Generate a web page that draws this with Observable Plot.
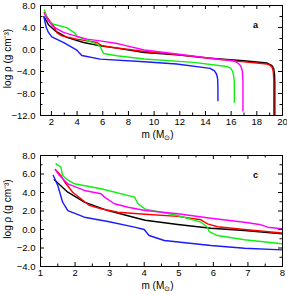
<!DOCTYPE html>
<html><head><meta charset="utf-8">
<script src="https://cdn.jsdelivr.net/npm/d3@7"></script>
<script src="https://cdn.jsdelivr.net/npm/@observablehq/plot@0.6"></script>
<style>body{margin:0;background:#fff} #chart svg{display:block}</style>
</head><body><div id="chart"></div>
<script>
// ---------- labels ----------
const yLabel = "log ρ (g cm⁻³)";
const xLabel = "m (M⊙)";
const seriesColors = ["#000000", "#ff0000", "#11ee11", "#ff00ff", "#1a1aff"];

// ---------- panel a ----------
const aTag = "a";
const aXTicks = [2, 4, 6, 8, 10, 12, 14, 16, 18, 20];
const aXMinor = [3, 5, 7, 9, 11, 13, 15, 17, 19];
const aYTicks = [8, 4, 0, -4, -8, -12];
const aYMinor = [6, 2, -2, -6, -10];

const aBlackM   = [1.45, 1.77, 2.29, 3.2, 4.5, 5.8, 7.1, 9.24, 11.76, 14.37, 16.98, 18.8, 19.19, 19.32, 19.38, 19.4, 19.4];
const aBlackRho = [5.9, 4.5, 3.4, 2.2, 1.27, 0.67, 0.25, -0.54, -0.96, -1.56, -2.05, -2.46, -2.95, -3.5, -4.5, -6, -12.5];
const aRedM     = [1.45, 1.77, 2.16, 2.42, 2.81, 3.98, 5.55, 5.94, 6.84, 9.24, 11.76, 14.37, 16.98, 18.8, 19.05, 19.2, 19.28, 19.32, 19.32];
const aRedRho   = [6.7, 5.5, 4.3, 3.08, 2.48, 1.88, 1.27, 0.67, 0.36, -0.36, -0.9, -1.65, -2.25, -2.64, -2.9, -3.3, -4, -5.5, -12.5];
const aGreenM   = [1.45, 1.55, 1.64, 2.16, 3.2, 3.77, 4.03, 5.55, 5.8, 6.06, 7.1, 9.24, 13.07, 15.67, 15.95, 16.1, 16.2, 16.25, 16.25];
const aGreenRho = [7.2, 6.6, 5.5, 4.6, 3.98, 3.08, 2.35, 0.98, 0.5, -0.72, -1.14, -1.74, -2.35, -3.08, -3.4, -3.9, -4.8, -6, -9.6];
const aMagM     = [1.45, 1.77, 2.16, 2.94, 3.85, 4.77, 5.8, 7.1, 7.63, 9.24, 11.76, 14.37, 16.2, 16.55, 16.75, 16.88, 16.92, 16.92];
const aMagRho   = [6.5, 5.2, 4.1, 3.1, 2.48, 1.88, 1.57, 1.09, 0.8, -0.1, -0.83, -1.56, -2.05, -2.5, -3.0, -4, -6, -11.2];
const aBlueM    = [1.41, 1.6, 1.77, 2.03, 3.0, 3.98, 4.2, 4.37, 5.8, 9.24, 11.76, 14.37, 14.7, 14.87, 14.95, 14.97, 14.97];
const aBlueRho  = [5.97, 4.0, 3.1, 2.3, 1.2, -0.1, -0.7, -1.1, -1.75, -2.23, -2.64, -3.43, -3.9, -4.5, -5.4, -7, -9.3];

// ---------- panel c ----------
const cTag = "c";
const cXTicks = [1, 2, 3, 4, 5, 6, 7, 8];
const cXMinor = [1.5, 2.5, 3.5, 4.5, 5.5, 6.5, 7.5];
const cYTicks = [8, 6, 4, 2, 0, -2, -4];
const cYMinor = [7, 5, 3, 1, -1, -3];

const cBlackM   = [1.4, 1.79, 2.27, 2.95, 3.72, 4.03, 4.97, 5.93, 6.9, 7.99];
const cBlackRho = [5.37, 4.03, 2.95, 2.05, 1.3, 1.0, 0.54, 0.14, -0.11, -0.47];
const cRedM     = [1.43, 1.59, 1.69, 1.93, 2.17, 2.41, 2.75, 3.24, 4.03, 4.97, 5.64, 5.83, 6.12, 6.9, 7.99];
const cRedRho   = [6.49, 5.84, 5.19, 4.03, 3.32, 2.6, 2.24, 1.87, 1.65, 1.42, 1.05, 0.6, 0.3, 0.0, -0.38];
const cGreenM   = [1.45, 1.59, 1.64, 1.74, 1.98, 2.75, 3.72, 3.82, 4.03, 4.97, 5.64, 5.83, 5.88, 6.12, 6.9, 7.99];
const cGreenRho = [7.1, 6.74, 5.84, 5.48, 4.94, 4.4, 3.5, 2.78, 2.2, 1.51, 0.79, 0.25, -0.22, -0.65, -1.11, -1.55];
const cMagM     = [1.43, 1.55, 1.79, 2.27, 2.75, 2.85, 3.14, 3.53, 4.03, 4.97, 5.93, 6.9, 7.38, 7.57, 7.99];
const cMagRho   = [6.45, 5.84, 4.94, 4.22, 3.86, 3.5, 2.78, 2.41, 2.05, 1.7, 1.22, 0.79, 0.51, 0.25, 0.08];
const cBlueM    = [1.37, 1.5, 1.64, 1.79, 2.27, 2.95, 3.72, 4.0, 4.14, 4.58, 5.93, 6.9, 7.99];
const cBlueRho  = [5.84, 4.76, 2.95, 2.05, 1.33, 0.86, 0.25, 0.0, -0.65, -1.19, -1.73, -2.02, -2.2];

const W = 287, mL = 40, mR = 5;
const font = "'Liberation Sans', Arial, Helvetica, sans-serif";
const fmtY = d3.format(".1f");

function panel(opt) {
  const {xDomain, yDomain, series, xT, xm, yT, ym, height, mT, mB, tag} = opt;
  const pw = W - mL - mR, ph = height - mT - mB;
  const marks = [];
  series.forEach(([m, r], i) => {
    const data = m.map((v, j) => ({m: v, rho: r[j]}));
    marks.push(Plot.line(data, {x: "m", y: "rho", stroke: seriesColors[i], strokeWidth: 1.4, clip: true}));
  });
  const tk = {stroke: "black", strokeWidth: 1};
  marks.push(
    Plot.tickX(xT, {x: d => d, insetTop: ph - 4, ...tk}),
    Plot.tickX(xT, {x: d => d, insetBottom: ph - 4, ...tk}),
    Plot.tickX(xm, {x: d => d, insetTop: ph - 2.5, ...tk}),
    Plot.tickX(xm, {x: d => d, insetBottom: ph - 2.5, ...tk}),
    Plot.tickY(yT, {y: d => d, insetRight: pw - 4, ...tk}),
    Plot.tickY(yT, {y: d => d, insetLeft: pw - 4, ...tk}),
    Plot.tickY(ym, {y: d => d, insetRight: pw - 2.5, ...tk}),
    Plot.tickY(ym, {y: d => d, insetLeft: pw - 2.5, ...tk}),
    Plot.axisX(xT, {anchor: "bottom", tickSize: 0, tickPadding: 3, tickFormat: d => String(d), label: null, fontSize: 9.5}),
    Plot.axisY(yT, {anchor: "left", tickSize: 0, tickPadding: 5, tickFormat: fmtY, label: null, fontSize: 9.5}),
    Plot.frame({stroke: "black", strokeWidth: 1}),
    Plot.text([tag], {text: d => d, frameAnchor: "top-right", dx: -27, dy: 20, textAnchor: "middle", lineAnchor: "middle", fontWeight: "bold", fontSize: 9}),
    Plot.text([xLabel], {text: d => d, frameAnchor: "bottom", dy: 19, dx: -4, textAnchor: "middle", lineAnchor: "middle", fontSize: 10}),
    Plot.text([yLabel], {text: d => d, frameAnchor: "left", dx: -33, dy: -2, rotate: -90, textAnchor: "middle", lineAnchor: "middle", fontSize: 10})
  );
  const svg = Plot.plot({
    width: W, height, marginLeft: mL, marginRight: mR, marginTop: mT, marginBottom: mB,
    x: {domain: xDomain}, y: {domain: yDomain},
    style: {fontFamily: font, fontSize: "9.5px", color: "black", background: "white"},
    marks
  });
  svg.querySelectorAll("text").forEach(t => {
    if (t.textContent === xLabel) {
      while (t.firstChild) t.removeChild(t.firstChild);
      const ns = "http://www.w3.org/2000/svg";
      const a = document.createElementNS(ns, "tspan"); a.textContent = "m (M";
      const b = document.createElementNS(ns, "tspan"); b.textContent = "⊙"; b.setAttribute("dy", "2"); b.setAttribute("font-size", "6.5");
      const c = document.createElementNS(ns, "tspan"); c.textContent = ")"; c.setAttribute("dy", "-2");
      t.append(a, b, c);
    }
  });
  return svg;
}

const root = document.getElementById("chart");
root.append(panel({
  xDomain: [1.15, 20], yDomain: [-12, 8], height: 145, mT: 5, mB: 30, tag: aTag,
  xT: aXTicks, xm: aXMinor, yT: aYTicks, ym: aYMinor,
  series: [[aBlackM, aBlackRho], [aRedM, aRedRho], [aGreenM, aGreenRho], [aMagM, aMagRho], [aBlueM, aBlueRho]]
}));
root.append(panel({
  xDomain: [1, 8], yDomain: [-4, 8], height: 150, mT: 10, mB: 29, tag: cTag,
  xT: cXTicks, xm: cXMinor, yT: cYTicks, ym: cYMinor,
  series: [[cBlackM, cBlackRho], [cRedM, cRedRho], [cGreenM, cGreenRho], [cMagM, cMagRho], [cBlueM, cBlueRho]]
}));
</script></body></html>
